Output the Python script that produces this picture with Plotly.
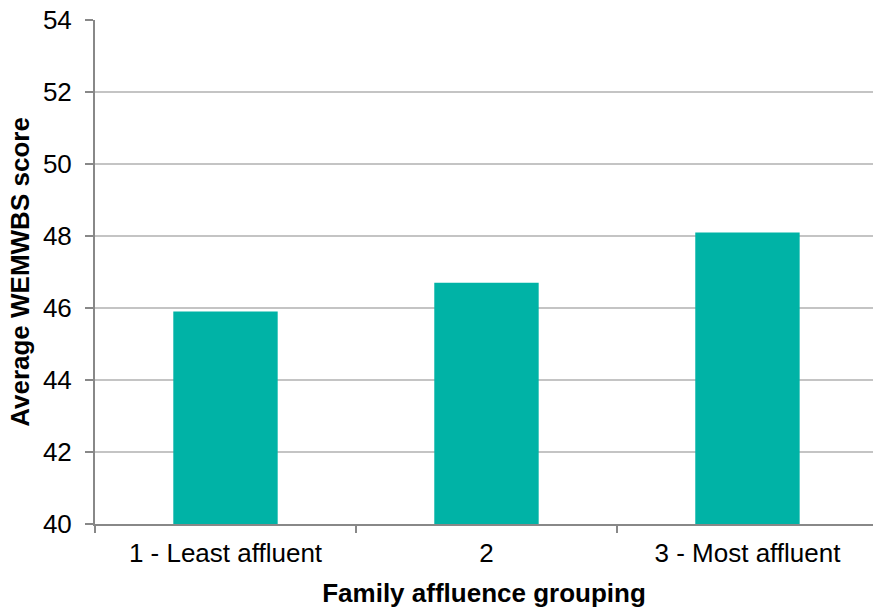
import plotly.graph_objects as go

# Average WEMWBS score by family affluence group
groups = ["1 - Least affluent", "2", "3 - Most affluent"]
scores = [45.9, 46.7, 48.1]
y_ticks = [40, 42, 44, 46, 48, 50, 52, 54]

fig = go.Figure(
    go.Bar(
        x=groups,
        y=scores,
        marker=dict(color="#00B3A6", line=dict(width=0)),
        width=0.4,
    )
)

fig.update_layout(
    width=873,
    height=609,
    margin=dict(l=95, r=0, t=20, b=85),
    paper_bgcolor="white",
    plot_bgcolor="white",
    font=dict(family="Liberation Sans, Arial, sans-serif", color="#000000"),
    showlegend=False,
)

fig.update_xaxes(
    type="category",
    range=[-0.5, 2.481],
    showline=True,
    linecolor="#888888",
    linewidth=2,
    ticks="outside",
    tickson="boundaries",
    ticklen=7,
    tickcolor="#888888",
    tickwidth=2,
    showgrid=False,
    tickfont=dict(size=26),
    ticklabelstandoff=5,
    title=dict(
        text="<b>Family affluence grouping</b>",
        font=dict(size=26),
        standoff=17,
    ),
)

fig.update_yaxes(
    range=[40, 54],
    tickvals=y_ticks,
    showline=True,
    linecolor="#888888",
    linewidth=2,
    ticks="outside",
    ticklen=8,
    tickcolor="#888888",
    tickwidth=2,
    showgrid=True,
    gridcolor="#C4C4C4",
    gridwidth=2,
    zeroline=False,
    tickfont=dict(size=26),
    ticklabelstandoff=8,
    title=dict(
        text="<b>Average WEMWBS score</b>",
        font=dict(size=26),
        standoff=6,
    ),
)

fig.write_html("out.html")
